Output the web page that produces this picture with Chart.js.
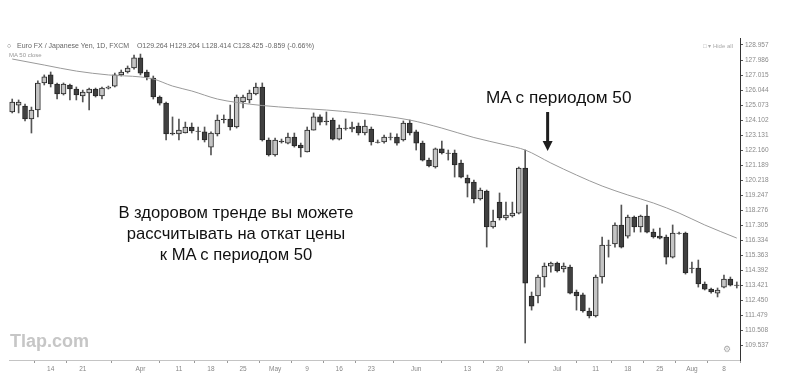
<!DOCTYPE html>
<html>
<head>
<meta charset="utf-8">
<script src="https://cdn.jsdelivr.net/npm/chart.js@4.4.1/dist/chart.umd.min.js"></script>
<style>
  body { margin: 0; background: #fff; }
  #wrap { position: relative; width: 786px; height: 389px; font-family: "Liberation Sans", Arial, sans-serif; }
  #cuadro { position: absolute; left: 0; top: 0; }
  .txt { position: absolute; white-space: nowrap; }
  .head { font-size: 7px; color: #666; }
  .note { font-size: 16.6px; color: #111; text-align: center; line-height: 21px; }
</style>
</head>
<body>
<div id="wrap">
  <canvas id="cuadro" width="786" height="389"></canvas>
  <div class="txt head" style="left:7px;top:42px;">&#9675;&nbsp;&nbsp;&nbsp;Euro FX / Japanese Yen, 1D, FXCM&nbsp;&nbsp;&nbsp;&nbsp;O129.264 H129.264 L128.414 C128.425 -0.859 (-0.66%)</div>
  <div class="txt head" style="left:9px;top:52px;font-size:6px;color:#999;">MA 50 close</div>
  <div class="txt head" style="left:703px;top:42px;font-size:6px;color:#aaa;">&#9633; &#9662; Hide all</div>
  <div class="txt note" style="left:486px;top:87px;font-size:17.2px;">MA с периодом 50</div>
  <div class="txt note" style="left:106px;top:202px;width:260px;">В здоровом тренде вы можете<br>рассчитывать на откат цены<br>к MA с периодом 50</div>
  <div class="txt" style="left:10px;top:331px;font-size:18px;font-weight:bold;color:#c6c6c6;">Tlap.com</div>
  <div class="txt" style="left:723px;top:344px;font-size:9px;color:#aaa;">&#9881;</div>
</div>
<script>
// EUR/JPY daily, 4 Mar 2016 - 10 Aug 2016 (114 sessions)
const open = [124.62,125.07,125.01,124.17,124.75,126.50,127.02,126.43,125.79,126.37,126.11,125.66,125.85,126.11,125.66,126.17,126.30,127.02,127.21,127.47,
  128.12,127.21,126.82,125.59,125.20,123.26,123.20,123.26,123.65,123.39,123.33,122.35,123.20,124.17,124.17,123.65,125.27,125.40,125.79,126.24,
  122.81,121.84,122.74,122.61,123.00,122.48,122.03,123.45,124.30,124.04,124.10,122.87,123.58,123.52,123.71,123.26,123.52,122.68,122.68,123.00,
  123.00,122.81,123.91,123.33,122.61,121.51,121.06,122.23,121.97,121.97,121.32,120.35,120.09,118.99,119.51,117.18,118.79,117.76,117.89,118.08,
  120.99,112.71,112.71,113.94,114.65,114.85,114.46,114.59,112.97,112.78,111.74,111.42,113.94,116.01,116.08,117.31,116.59,117.82,117.18,117.89,
  116.85,116.59,116.53,115.23,116.79,116.79,114.52,114.52,113.49,113.16,112.90,113.29,113.81,113.42];
const high = [125.46,125.40,125.14,124.94,126.63,127.02,127.21,126.50,126.50,126.43,126.24,126.04,126.17,126.17,126.24,126.30,127.14,127.34,127.60,128.31,
  128.37,127.34,126.95,125.66,125.27,124.30,124.17,123.97,123.91,123.65,123.65,123.33,124.43,124.43,125.07,125.72,125.72,126.04,126.50,126.50,
  122.94,122.94,122.87,123.26,123.26,122.61,123.65,124.56,124.43,124.62,124.23,123.78,124.17,123.97,123.91,124.10,123.65,122.81,123.13,123.26,
  123.20,124.04,124.10,123.45,122.74,121.64,122.29,122.74,122.16,122.16,121.51,120.54,120.22,119.70,119.57,118.28,119.38,118.79,118.79,121.06,
  122.16,112.97,114.07,114.85,114.91,114.91,114.85,114.72,113.10,112.90,111.93,114.07,116.53,116.33,117.44,118.60,117.95,117.89,117.95,118.60,
  117.05,117.11,116.66,117.31,116.85,116.85,114.91,115.04,113.62,113.23,113.23,114.07,113.94,113.62];
const low = [124.56,124.56,124.04,123.26,124.30,126.37,126.24,125.46,125.72,125.40,125.40,125.27,124.75,125.59,125.46,126.11,126.24,126.95,127.14,127.40,
  127.02,126.69,125.46,125.07,122.81,123.13,122.81,123.26,123.26,122.81,122.68,121.84,123.07,123.91,123.45,123.58,124.88,125.20,125.72,122.74,
  121.77,121.77,122.61,122.55,122.35,121.71,122.03,123.45,123.78,123.78,122.81,122.81,123.45,123.33,123.13,123.13,122.48,122.61,122.61,122.81,
  122.48,122.74,123.13,122.16,121.45,121.06,120.99,121.90,121.51,120.41,120.35,119.12,118.73,118.92,115.88,117.11,117.63,117.63,117.82,118.02,
  109.67,111.80,112.26,113.29,114.26,114.26,114.26,112.84,111.80,111.67,111.29,111.35,113.55,115.23,115.88,115.82,116.46,116.85,116.85,116.79,
  116.46,116.40,114.78,115.17,116.72,114.13,114.20,113.29,113.10,112.90,112.65,113.23,113.36,113.23];
const close = [125.27,125.27,124.17,124.75,126.50,126.89,126.43,125.79,126.43,126.11,125.72,125.91,126.11,125.66,126.17,126.24,127.02,127.21,127.47,128.12,
  127.14,126.89,125.59,125.20,123.20,123.20,123.45,123.65,123.39,123.36,122.81,123.26,124.10,124.13,123.65,125.59,125.59,125.85,126.24,122.81,
  121.84,122.81,122.68,123.00,122.42,122.29,123.45,124.30,123.97,124.00,122.87,123.58,123.55,123.65,123.26,123.71,122.68,122.65,123.00,122.97,
  122.61,123.91,123.26,122.61,121.51,121.13,122.23,121.97,121.94,121.19,120.41,120.02,118.99,119.57,117.18,117.56,117.76,117.95,118.08,120.99,
  113.55,112.06,113.94,114.65,114.85,114.33,114.65,112.90,112.71,111.74,111.42,113.94,116.01,115.98,117.31,115.88,117.82,117.18,117.89,116.85,
  116.53,116.46,115.23,116.79,116.76,114.20,114.49,113.49,113.16,112.97,113.10,113.81,113.42,113.39];

// MA 50, read at some sessions only
const maIdx = [0,5,10,15,20,22,25,28,32,35,39,44,49,54,58,62,67,72,77,80,84,88,92,96,100,104,108,113];
const maVal = [128.05,127.66,127.27,127.02,126.89,126.76,126.30,125.98,125.46,125.24,125.04,124.88,124.75,124.56,124.36,124.10,
  123.58,122.97,122.48,122.16,121.32,120.54,119.83,119.25,118.73,118.08,117.31,116.46];

const xTickIdx = [6, 11, 20, 26, 31, 36, 41, 46, 51, 56, 63, 71, 76, 85, 91, 96, 101, 106, 111];
const xTickText = ["14", "21", "Apr", "11", "18", "25", "May", "9", "16", "23", "Jun", "13", "20", "Jul", "11", "18", "25", "Aug", "8"];

const yTicks = [128.957, 127.986, 127.015, 126.044, 125.073, 124.102, 123.131, 122.160, 121.189, 120.218, 119.247,
  118.276, 117.305, 116.334, 115.363, 114.392, 113.421, 112.450, 111.479, 110.508, 109.537];
const yMin = 108.57;
const yMax = 129.41;

// arrow pointing at the MA (session index, from price, to price)
const arrowAt = 83.5;
const arrowFrom = 124.62;
const arrowTo = 122.10;

let dias = [];
let d = new Date(Date.UTC(2016, 2, 4));
while (dias.length < open.length) {
  if (d.getUTCDay() != 0 && d.getUTCDay() != 6) {
    dias.push(d.toISOString().slice(0, 10));
  }
  d.setUTCDate(d.getUTCDate() + 1);
}

const sube = open.map((o, i) => close[i] >= o);
const mechas = low.map((l, i) => [l, high[i]]);
const cuerpos = open.map((o, i) => [o, close[i]]);
let media = open.map(() => null);
for (let i = 0; i < maIdx.length; i++) {
  media[maIdx[i]] = maVal[i];
}

const flecha = {
  id: 'flecha',
  afterDatasetsDraw(chart) {
    const ctx = chart.ctx;
    const x = (chart.scales.x.getPixelForValue(Math.floor(arrowAt)) + chart.scales.x.getPixelForValue(Math.ceil(arrowAt))) / 2;
    const y0 = chart.scales.y.getPixelForValue(arrowFrom);
    const y1 = chart.scales.y.getPixelForValue(arrowTo);
    ctx.save();
    ctx.fillStyle = '#1e1e1e';
    ctx.fillRect(x - 1.5, y0, 3, y1 - y0 - 8);
    ctx.beginPath();
    ctx.moveTo(x - 5, y1 - 10);
    ctx.lineTo(x + 5, y1 - 10);
    ctx.lineTo(x, y1);
    ctx.closePath();
    ctx.fill();
    ctx.restore();
  }
};

const cuadro = new Chart(document.getElementById('cuadro'), {
  type: 'bar',
  data: {
    labels: dias,
    datasets: [
      {
        type: 'line',
        label: 'MA 50',
        data: media,
        borderColor: '#9a9a9a',
        borderWidth: 1,
        pointRadius: 0,
        spanGaps: true,
        cubicInterpolationMode: 'monotone',
        order: 1
      },
      {
        label: 'cuerpos',
        data: cuerpos,
        backgroundColor: sube.map(s => s ? '#c4c4c4' : '#404040'),
        borderColor: '#262626',
        borderWidth: 1,
        borderSkipped: false,
        barThickness: 5,
        grouped: false,
        order: 2
      },
      {
        label: 'mechas',
        data: mechas,
        backgroundColor: '#555',
        barThickness: 1,
        grouped: false,
        order: 3
      }
    ]
  },
  options: {
    responsive: false,
    animation: false,
    layout: { padding: { top: 38, left: 9, right: 0, bottom: 0 } },
    plugins: { legend: { display: false }, tooltip: { enabled: false } },
    scales: {
      x: {
        offset: true,
        grid: { drawOnChartArea: false, tickLength: 3, color: '#999' },
        border: { color: '#c4c4c4', dash: [2, 2] },
        afterBuildTicks: (scale) => { scale.ticks = xTickIdx.map(v => ({ value: v })); },
        afterFit: (scale) => { scale.height = 29; },
        ticks: {
          autoSkip: false,
          maxRotation: 0,
          padding: 2,
          color: '#888',
          font: { family: 'Liberation Sans', size: 6.5 },
          callback: (val) => xTickText[xTickIdx.indexOf(val)]
        }
      },
      y: {
        position: 'right',
        min: yMin,
        max: yMax,
        grid: { drawOnChartArea: false, tickLength: 3, color: '#555' },
        border: { color: '#333', width: 1 },
        afterBuildTicks: (scale) => { scale.ticks = yTicks.map(v => ({ value: v })); },
        afterFit: (scale) => { scale.width = 46; },
        ticks: {
          padding: 2,
          color: '#8a8a8a',
          font: { family: 'Liberation Sans', size: 6.5 },
          callback: (val) => val.toFixed(3)
        }
      }
    }
  },
  plugins: [flecha]
});
</script>
</body>
</html>
